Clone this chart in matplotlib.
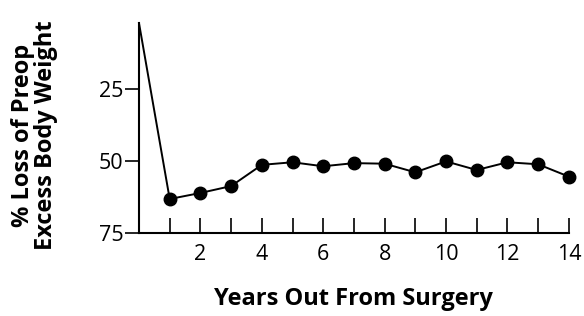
import matplotlib
matplotlib.use('Agg')
import matplotlib.pyplot as plt

plt.rcParams['font.family'] = ['Open Sans', 'DejaVu Sans']

years = [0, 1, 2, 3, 4, 5, 6, 7, 8, 9, 10, 11, 12, 13, 14]
loss = [2, 63.3, 61.2, 58.8, 51.4, 50.5, 51.9, 50.8, 51.0, 54.0, 50.2, 53.2, 50.5, 51.2, 55.5]
x_ticks = list(range(1, 15))
x_labels = ['' if t % 2 else str(t) for t in x_ticks]
y_ticks = [25, 50, 75]

fig = plt.figure(figsize=(5.84, 3.16), dpi=100)
ax = fig.add_axes([0.238, 0.264, 0.736, 0.663])

ax.plot(years, loss, color='black', linewidth=1.4, clip_on=False)
ax.plot(years[1:], loss[1:], 'o', color='black', markersize=9, clip_on=False)

ax.set_xlim(0, 14)
ax.set_ylim(75, 2)
ax.set_xticks(x_ticks)
ax.set_xticklabels(x_labels, fontsize=15.5)
ax.set_yticks(y_ticks)
ax.set_yticklabels([str(t) for t in y_ticks], fontsize=15.5)
ax.tick_params(axis='x', direction='in', length=11, width=1.2, pad=8)
ax.tick_params(axis='y', direction='out', length=10, width=1.2, pad=1)

for s in ['top', 'right']:
    ax.spines[s].set_visible(False)
for s in ['left', 'bottom']:
    ax.spines[s].set_linewidth(1.5)

ax.set_xlabel('Years Out From Surgery', fontsize=17, fontweight='bold', labelpad=16)
ax.set_ylabel('% Loss of Preop\nExcess Body Weight', fontsize=17, fontweight='bold',
              linespacing=0.95)
ax.yaxis.set_label_coords(-0.188, 0.466)

fig.savefig('out.png', dpi=100)
